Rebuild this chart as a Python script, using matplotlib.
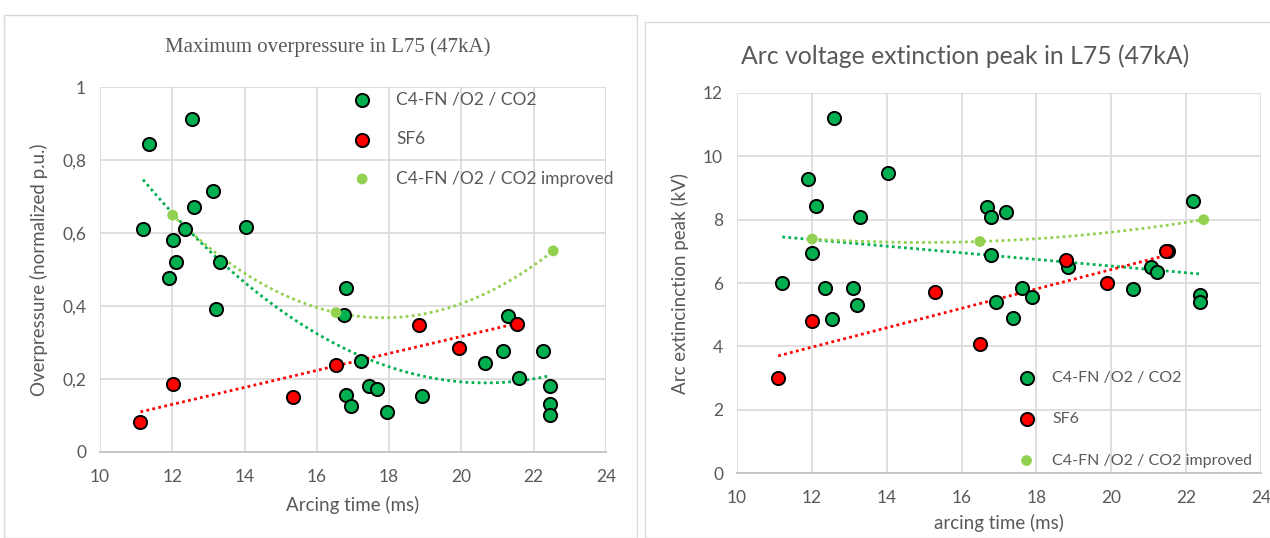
import numpy as np
import matplotlib
matplotlib.use("Agg")
import matplotlib.pyplot as plt
from matplotlib.patches import Rectangle
from matplotlib.ticker import FuncFormatter

plt.rcParams['font.family'] = ['Lato', 'DejaVu Sans']

# --- overpressure (left) ---
op_c4_t = [11.35, 11.19, 12.55, 12.01, 12.11, 11.91, 12.34, 12.61, 13.14, 13.31,
           13.22, 14.04, 16.82, 16.74, 17.21, 16.82, 16.94, 17.43, 17.67, 17.94,
           18.92, 20.65, 21.14, 21.28, 21.60, 22.25, 22.44, 22.44, 22.44]
op_c4_v = [0.845, 0.611, 0.911, 0.581, 0.520, 0.477, 0.611, 0.672, 0.715, 0.521,
           0.392, 0.616, 0.450, 0.375, 0.250, 0.155, 0.127, 0.180, 0.173, 0.110,
           0.153, 0.244, 0.276, 0.372, 0.203, 0.276, 0.180, 0.132, 0.102]
op_sf6_t = [11.12, 12.01, 15.33, 16.53, 18.83, 19.92, 21.54]
op_sf6_v = [0.083, 0.185, 0.150, 0.238, 0.349, 0.284, 0.352]
op_imp_t = [12.01, 16.53, 22.54]
op_imp_v = [0.649, 0.382, 0.551]

# --- arc voltage (right) ---
av_c4_t = [11.21, 11.90, 12.11, 12.01, 12.34, 12.53, 12.59, 13.11, 13.20, 13.29,
           14.04, 16.68, 16.78, 17.18, 16.78, 16.91, 17.38, 17.62, 17.87, 18.85,
           20.57, 21.07, 21.22, 21.51, 22.17, 22.38, 22.38]
av_c4_v = [6.00, 9.29, 8.44, 6.95, 5.85, 4.85, 11.21, 5.85, 5.29, 8.09,
           9.47, 8.39, 8.09, 8.24, 6.88, 5.39, 4.88, 5.85, 5.56, 6.50,
           5.80, 6.50, 6.34, 7.00, 8.59, 5.62, 5.39]
av_sf6_t = [11.10, 12.01, 15.28, 16.49, 18.78, 19.89, 21.47]
av_sf6_v = [3.00, 4.80, 5.72, 4.08, 6.72, 6.00, 7.00]
av_imp_t = [12.01, 16.49, 22.47]
av_imp_v = [7.39, 7.31, 8.00]

labels = ['C4-FN /O2 / CO2', 'SF6', 'C4-FN /O2 / CO2 improved']
c_dark = '#00b050'
c_red = '#ff0000'
c_light = '#92d050'
grey = '#595959'

fig = plt.figure(figsize=(12.7, 5.38), dpi=100)

# panel frames
fig.patches.append(Rectangle((4 / 1270, 0), 633 / 1270, 1 - 15 / 538,
                             transform=fig.transFigure, fill=False,
                             edgecolor='#d9d9d9', linewidth=1))
fig.patches.append(Rectangle((645 / 1270, 0), 630 / 1270, 1 - 22 / 538,
                             transform=fig.transFigure, fill=False,
                             edgecolor='#d9d9d9', linewidth=1))


def trend(ax, t, v, deg, color):
    coef = np.polyfit(t, v, deg)
    xs = np.linspace(min(t), max(t), 200)
    ax.plot(xs, np.polyval(coef, xs), linestyle=(0, (1, 1.2)), color=color,
            linewidth=2, zorder=2)


def setup(ax, ymax, ystep, comma):
    ax.set_xlim(10, 24)
    ax.set_ylim(0, ymax)
    ax.set_xticks(np.arange(10, 25, 2))
    ax.set_yticks(np.arange(0, ymax + ystep / 2, ystep))
    if comma:
        ax.yaxis.set_major_formatter(FuncFormatter(
            lambda v, p: ('%g' % round(v, 2)).replace('.', ',')))
    ax.grid(True, color='#d9d9d9', linewidth=1.2)
    ax.set_axisbelow(True)
    for s in ['top', 'right', 'left']:
        ax.spines[s].set_visible(False)
    ax.spines['bottom'].set_color('#bfbfbf')
    ax.spines['bottom'].set_linewidth(1.2)
    ax.tick_params(length=0, colors=grey, labelsize=12.5)
    ax.tick_params(axis='x', pad=12)
    ax.tick_params(axis='y', pad=10)


def scatter(ax, t, v, kind):
    if kind == 0:
        ax.scatter(t, v, s=90, color=c_dark, edgecolor='black', linewidth=1.4,
                   zorder=3, label=labels[0])
    elif kind == 1:
        ax.scatter(t, v, s=90, color=c_red, edgecolor='black', linewidth=1.4,
                   zorder=4, label=labels[1])
    else:
        ax.scatter(t, v, s=60, color=c_light, edgecolor='none', zorder=3,
                   label=labels[2])


# left
ax1 = fig.add_axes([100 / 1270, 1 - 452 / 538, 506 / 1270, 365 / 538])
setup(ax1, 1.0, 0.2, True)
trend(ax1, op_c4_t, op_c4_v, 2, c_dark)
trend(ax1, op_sf6_t, op_sf6_v, 1, c_red)
trend(ax1, op_imp_t, op_imp_v, 2, c_light)
scatter(ax1, op_c4_t, op_c4_v, 0)
scatter(ax1, op_sf6_t, op_sf6_v, 1)
scatter(ax1, op_imp_t, op_imp_v, 2)
ax1.set_xlabel('Arcing time (ms)', color=grey, fontsize=13.5, labelpad=8)
ax1.set_ylabel('Overpressure (normalized p.u.)', color=grey, fontsize=13.5,
               labelpad=10)
ax1.legend(loc='upper left', bbox_to_anchor=(0.47, 1.03), frameon=False,
           fontsize=12.5, labelspacing=1.35, handletextpad=1.45, handlelength=1,
           labelcolor=grey)
fig.text(328 / 1270, 1 - 47 / 538, 'Maximum overpressure in L75 (47kA)',
         family=['Liberation Serif', 'DejaVu Serif'], fontsize=15,
         color=grey, ha='center', va='center')

# right
ax2 = fig.add_axes([737 / 1270, 1 - 473 / 538, 524 / 1270, 380 / 538])
setup(ax2, 12, 2, False)
trend(ax2, av_c4_t, av_c4_v, 1, c_dark)
trend(ax2, av_sf6_t, av_sf6_v, 1, c_red)
trend(ax2, av_imp_t, av_imp_v, 2, c_light)
scatter(ax2, av_c4_t, av_c4_v, 0)
scatter(ax2, av_sf6_t, av_sf6_v, 1)
scatter(ax2, av_imp_t, av_imp_v, 2)
ax2.set_xlabel('arcing time (ms)', color=grey, fontsize=13.5, labelpad=6)
ax2.set_ylabel('Arc extincinction peak (kV)', color=grey, fontsize=13.5,
               labelpad=10)
ax2.legend(loc='lower left', bbox_to_anchor=(0.51, -0.024), frameon=False,
           fontsize=11.5, labelspacing=1.7, handletextpad=1.1, handlelength=1,
           labelcolor=grey)
fig.text(965 / 1270, 1 - 56 / 538, 'Arc voltage extinction peak in L75 (47kA)',
         fontsize=17.8, color=grey, ha='center', va='center')

fig.savefig('out.png', dpi=100)
